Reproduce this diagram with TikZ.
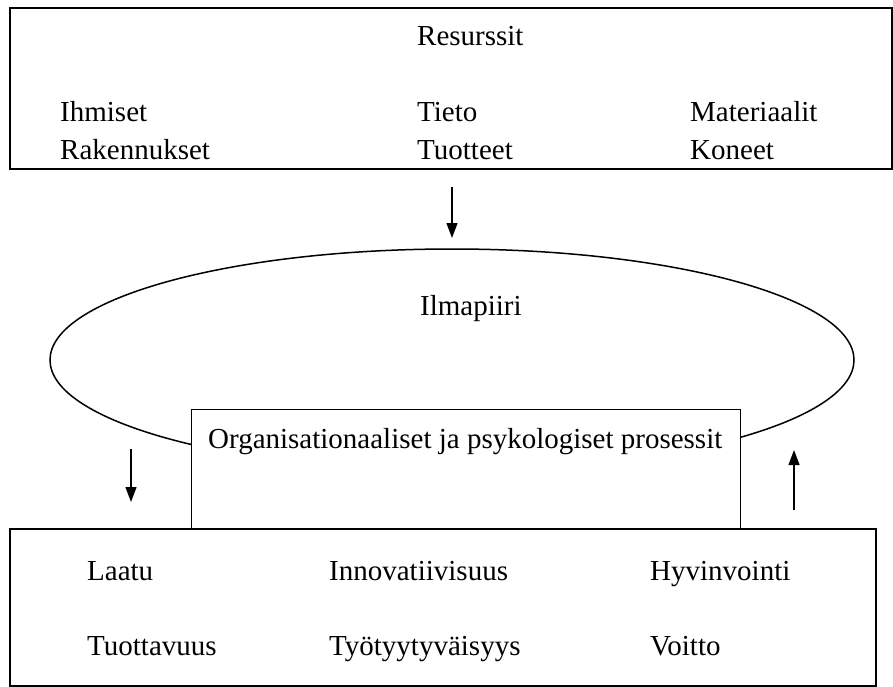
\documentclass[tikz,border=0pt]{standalone}
\usepackage{fontspec}
\setmainfont{Liberation Serif}
\usetikzlibrary{arrows.meta,shapes.geometric}
\tikzset{
  boxframe/.style={draw, line width=1.6pt, inner sep=0pt, fill=white},
  lbl/.style={anchor=base west, inner sep=0pt, font=\fontsize{29}{34}\selectfont},
  flowarrow/.style={line width=1.3pt, -{Triangle[length=15pt,width=11pt]}}
}
\begin{document}
\begin{tikzpicture}[x=1pt,y=-1pt]
\useasboundingbox (0,0) rectangle (893,687);
\clip (0,0) rectangle (893,687);
% top box
\node[boxframe, anchor=north west, minimum width=882pt, minimum height=161pt] (top) at (9,7) {};
\node[lbl] (res) at (417,46) {Resurssit};
\node[lbl] (ihm) at (60,122) {Ihmiset};
\node[lbl] (rak) at (60,160) {Rakennukset};
\node[lbl] (tie) at (417,122) {Tieto};
\node[lbl] (tuo) at (417,160) {Tuotteet};
\node[lbl] (mat) at (690,122) {Materiaalit};
\node[lbl] (kon) at (690,160) {Koneet};
% ellipse
\node[draw, ellipse, line width=1.5pt, inner sep=0pt, minimum width=804pt, minimum height=222pt] (ilm) at (452,360) {};
\node[lbl] (ilmt) at (420,315) {Ilmapiiri};
% bottom box
\node[boxframe, anchor=north west, minimum width=866pt, minimum height=157pt] (bot) at (9,528) {};
% org box
\node[boxframe, line width=1.4pt, anchor=north west, minimum width=549pt, minimum height=119pt] (org) at (191,409) {};
\node[lbl] (orgt) at (208,448) {Organisationaaliset ja psykologiset prosessit};
% bottom texts
\node[lbl] (laa) at (87,580) {Laatu};
\node[lbl] (tuot) at (87,655) {Tuottavuus};
\node[lbl] (inn) at (329,580) {Innovatiivisuus};
\node[lbl] (tyo) at (329,655) {Työtyytyväisyys};
\node[lbl] (hyv) at (650,580) {Hyvinvointi};
\node[lbl] (voi) at (650,655) {Voitto};
% arrows
\coordinate (a1s) at (452,187);
\coordinate (a1e) at (452,238);
\coordinate (a2s) at (131,449);
\coordinate (a2e) at (131,502);
\coordinate (a3s) at (794,510);
\coordinate (a3e) at (794,450);
\draw[flowarrow] (a1s) -- (a1e);
\draw[flowarrow] (a2s) -- (a2e);
\draw[flowarrow] (a3s) -- (a3e);
\end{tikzpicture}
\end{document}
